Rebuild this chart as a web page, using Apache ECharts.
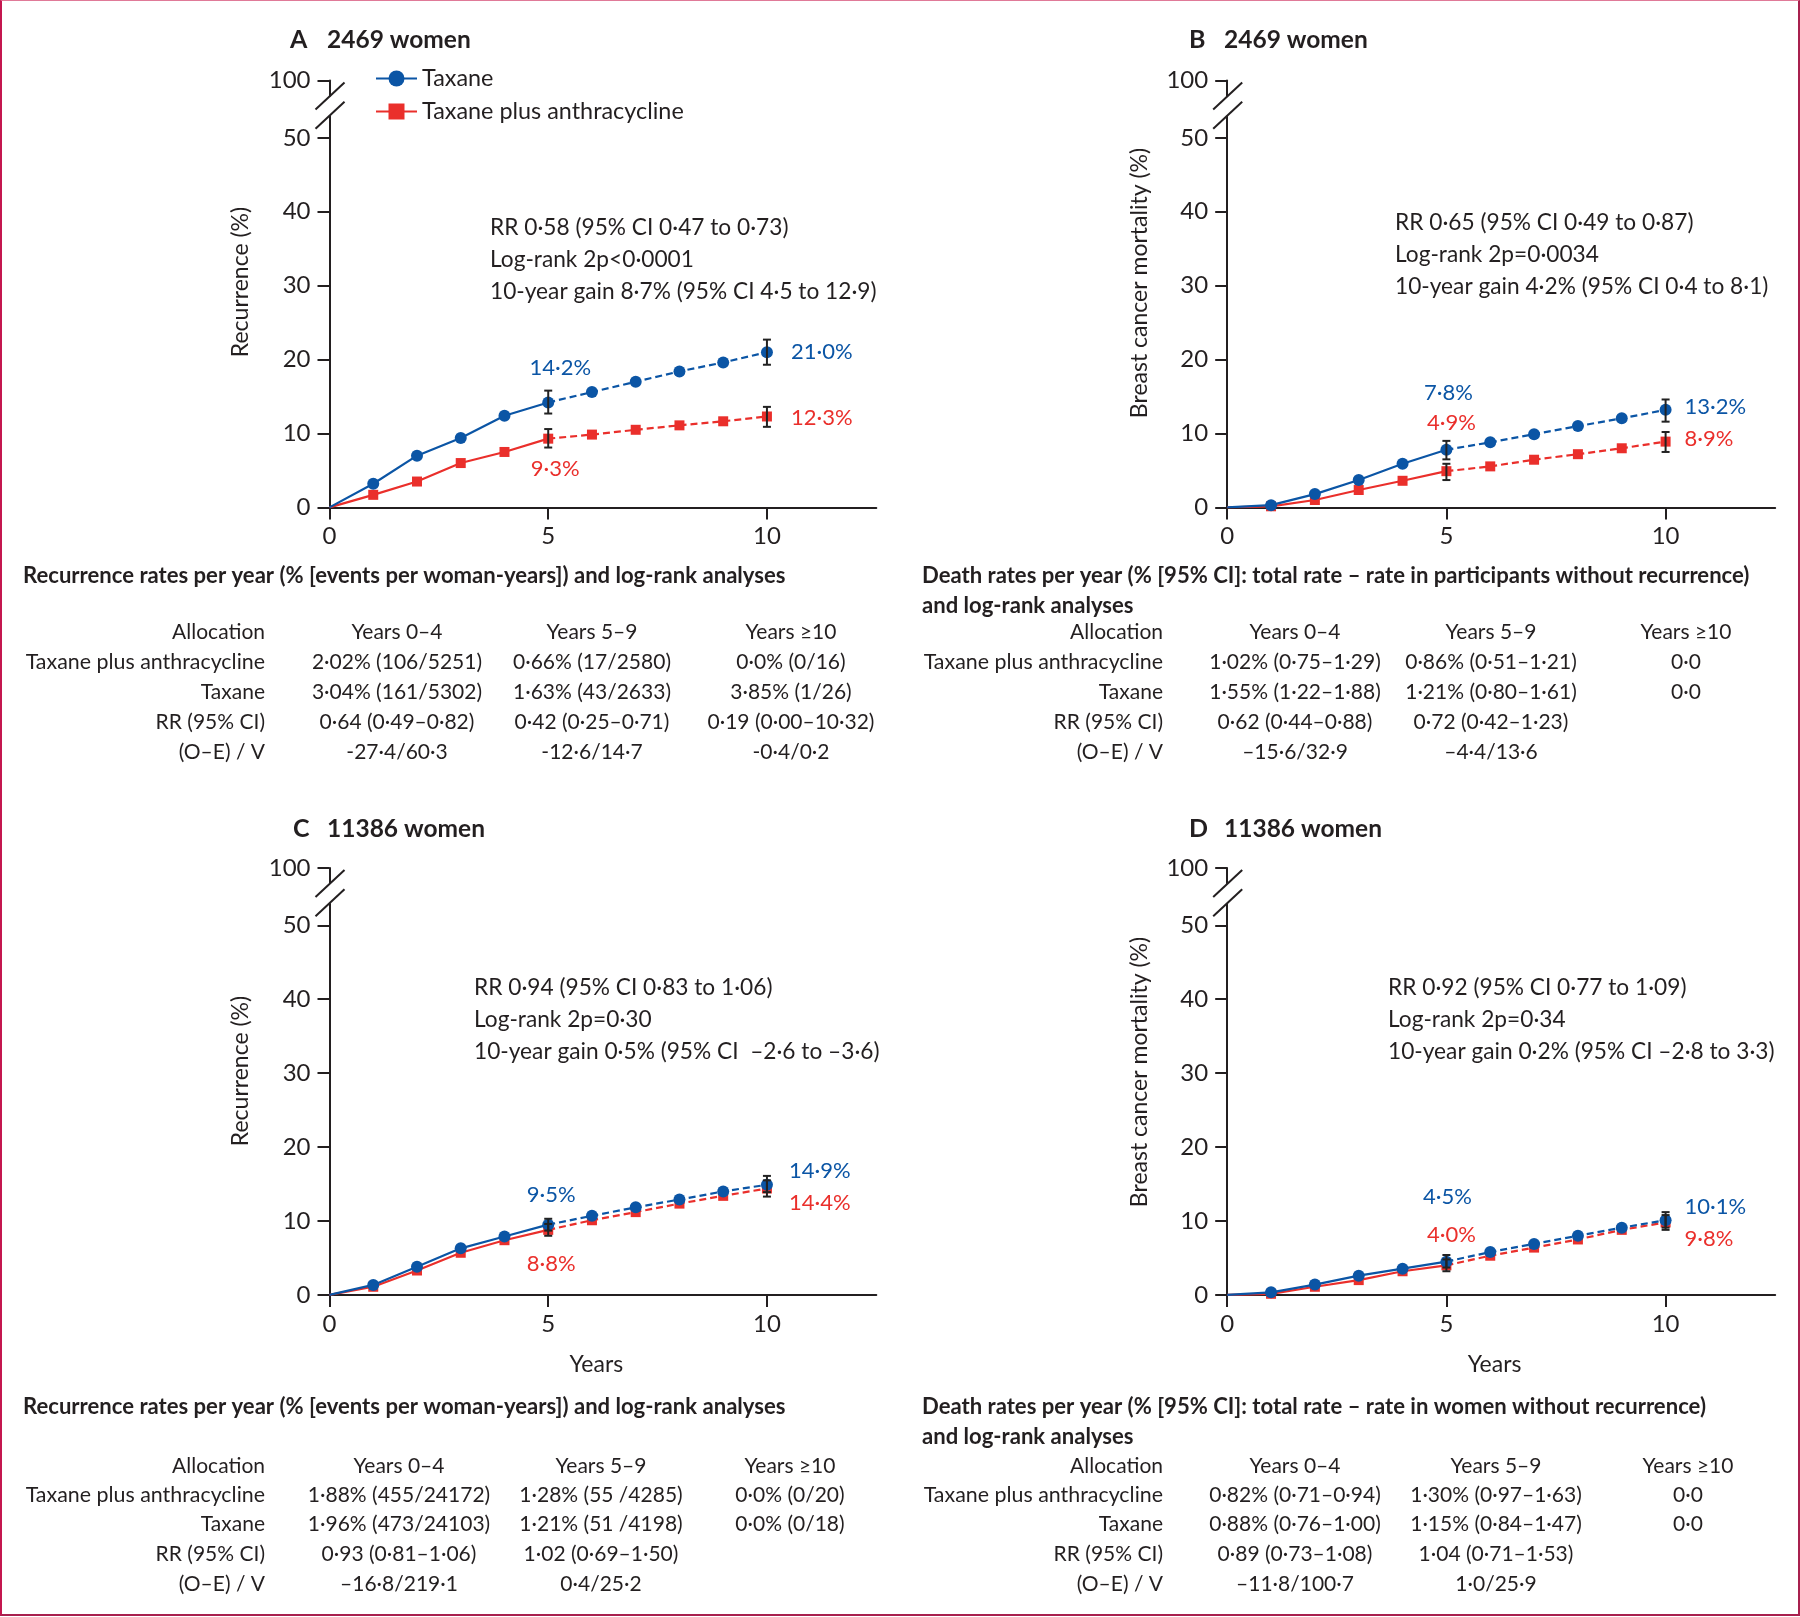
<!DOCTYPE html>
<html><head><meta charset="utf-8">
<script src="https://cdn.jsdelivr.net/npm/echarts@6/dist/echarts.min.js"></script>
<style>
html,body{margin:0;padding:0;background:#fff;}
#wrap{position:relative;width:1800px;height:1617px;overflow:hidden;}
#chart{position:absolute;left:0;top:0;width:1800px;height:1617px;}
#frame{position:absolute;left:0;top:0;width:1796px;height:1613px;border-left:2px solid #c4174f;border-top:1px solid #e07a98;border-right:2px solid #a8204e;border-bottom:2px solid #a8204e;pointer-events:none;}
</style></head>
<body><div id="wrap"><div id="chart"></div><div id="frame"></div></div>
<script>
// ---------------- DATA ----------------
const years = [0,1,2,3,4,5,6,7,8,9,10];
const taxaneA = [0,3.2,7.0,9.4,12.4,14.2,15.6,17.0,18.4,19.6,21.0];
const comboA  = [0,1.7,3.5,6.0,7.5,9.3,9.85,10.5,11.1,11.65,12.3];
const taxaneB = [0,0.3,1.8,3.7,5.9,7.8,8.8,9.9,11.0,12.05,13.2];
const comboB  = [0,0.15,1.0,2.35,3.6,4.9,5.55,6.45,7.2,8.0,8.9];
const taxaneC = [0,1.35,3.8,6.3,7.9,9.5,10.7,11.85,12.9,14.0,14.9];
const comboC  = [0,1.1,3.3,5.7,7.4,8.8,10.1,11.2,12.35,13.4,14.4];
const taxaneD = [0,0.35,1.4,2.6,3.55,4.5,5.8,6.9,8.0,9.1,10.1];
const comboD  = [0,0.15,1.1,2.0,3.2,4.0,5.3,6.4,7.5,8.8,9.8];
// error bars: [year, lower, upper]
const taxaneErrA = [[5,12.7,15.8],[10,19.3,22.7]];
const comboErrA  = [[5,8.1,10.6],[10,10.9,13.6]];
const taxaneErrB = [[5,6.5,9.0],[10,11.6,14.6]];
const comboErrB  = [[5,3.7,5.9],[10,7.5,10.2]];
const taxaneErrC = [[5,8.7,10.3],[10,13.9,16.1]];
const comboErrC  = [[5,8.0,9.6],[10,13.3,15.5]];
const taxaneErrD = [[5,3.7,5.4],[10,9.1,11.2]];
const comboErrD  = [[5,3.2,4.8],[10,8.8,10.8]];

const xTickValues = [0,5,10];
const yTickValues = [0,10,20,30,40,50];
const yTopTickLabel = '100';
const seriesNames = ['Taxane','Taxane plus anthracycline'];
const panelLetters = ['A','B','C','D'];
const panelTitles = ['2469 women','2469 women','11386 women','11386 women'];
const yAxisNames = ['Recurrence (%)','Breast cancer mortality (%)','Recurrence (%)','Breast cancer mortality (%)'];
const xAxisName = 'Years';
const statsA = ['RR 0·58 (95% CI 0·47 to 0·73)','Log-rank 2p<0·0001','10-year gain 8·7% (95% CI 4·5 to 12·9)'];
const statsB = ['RR 0·65 (95% CI 0·49 to 0·87)','Log-rank 2p=0·0034','10-year gain 4·2% (95% CI 0·4 to 8·1)'];
const statsC = ['RR 0·94 (95% CI 0·83 to 1·06)','Log-rank 2p=0·30','10-year gain 0·5% (95% CI  –2·6 to –3·6)'];
const statsD = ['RR 0·92 (95% CI 0·77 to 1·09)','Log-rank 2p=0·34','10-year gain 0·2% (95% CI –2·8 to 3·3)'];

const tableHeader = ['Allocation','Years 0–4','Years 5–9','Years ≥10'];
const tableRowLabels = ['Taxane plus anthracycline','Taxane','RR (95% CI)','(O–E) / V'];
const tableTitleA = ['Recurrence rates per year (% [events per woman-years]) and log-rank analyses'];
const tableTitleB = ['Death rates per year (% [95% CI]: total rate – rate in participants without recurrence)','and log-rank analyses'];
const tableTitleC = ['Recurrence rates per year (% [events per woman-years]) and log-rank analyses'];
const tableTitleD = ['Death rates per year (% [95% CI]: total rate – rate in women without recurrence)','and log-rank analyses'];
const tableA = [
  ['2·02% (106/5251)','0·66% (17/2580)','0·0% (0/16)'],
  ['3·04% (161/5302)','1·63% (43/2633)','3·85% (1/26)'],
  ['0·64 (0·49–0·82)','0·42 (0·25–0·71)','0·19 (0·00–10·32)'],
  ['-27·4/60·3','-12·6/14·7','-0·4/0·2']];
const tableB = [
  ['1·02% (0·75–1·29)','0·86% (0·51–1·21)','0·0'],
  ['1·55% (1·22–1·88)','1·21% (0·80–1·61)','0·0'],
  ['0·62 (0·44–0·88)','0·72 (0·42–1·23)',''],
  ['–15·6/32·9','–4·4/13·6','']];
const tableC = [
  ['1·88% (455/24172)','1·28% (55 /4285)','0·0% (0/20)'],
  ['1·96% (473/24103)','1·21% (51 /4198)','0·0% (0/18)'],
  ['0·93 (0·81–1·06)','1·02 (0·69–1·50)',''],
  ['–16·8/219·1','0·4/25·2','']];
const tableD = [
  ['0·82% (0·71–0·94)','1·30% (0·97–1·63)','0·0'],
  ['0·88% (0·76–1·00)','1·15% (0·84–1·47)','0·0'],
  ['0·89 (0·73–1·08)','1·04 (0·71–1·53)',''],
  ['–11·8/100·7','1·0/25·9','']];

// ---------------- STYLE / LAYOUT ----------------
const BLUE = '#0b55a5', RED = '#ea2f2b', INK = '#231f20';
const FONT = 'Lato';
const Y_TOP = 57.77;          // axis position used for the "100" tick above the break
const BREAK_HI = 55.6, BREAK_LO = 53.0;
const grids = [
  {left:329.5, top:80.4, width:546.8, height:427},
  {left:1227.2, top:80.4, width:548, height:427},
  {left:329.5, top:867.9, width:546.8, height:427},
  {left:1227.2, top:867.9, width:548, height:427}];
const panels = [
  {t:taxaneA, c:comboA, te:taxaneErrA, ce:comboErrA, stats:statsA, title:tableTitleA, table:tableA},
  {t:taxaneB, c:comboB, te:taxaneErrB, ce:comboErrB, stats:statsB, title:tableTitleB, table:tableB},
  {t:taxaneC, c:comboC, te:taxaneErrC, ce:comboErrC, stats:statsC, title:tableTitleC, table:tableC},
  {t:taxaneD, c:comboD, te:taxaneErrD, ce:comboErrD, stats:statsD, title:tableTitleD, table:tableD}];
// placement of end-point labels: [dx, dy, align]
const labelPlace = [
  {t5:[12,-35,'center'], c5:[7,30,'center'], t10:[24,0,'left'], c10:[24,1,'left']},
  {t5:[2,-57,'center'], c5:[5,-48,'center'], t10:[19,-3,'left'], c10:[19,-3,'left']},
  {t5:[3,-30,'center'], c5:[3,34,'center'], t10:[22,-14,'left'], c10:[22,14,'left']},
  {t5:[1,-65,'center'], c5:[5,-30,'center'], t10:[19,-13,'left'], c10:[19,16,'left']}];
const statsPos = [[490,228],[1395,223],[474,988],[1388,988]];
const titlePos = [[290,327,40],[1189,1224,40],[293,327,829],[1189,1224,829]];
const yNamePos = [[241,282],[1140,283],[241,1071],[1140,1072]];
const tableLayout = [
  {titleX:23, titleY:576, rows:[632,662,692,722,752], labelX:265, cols:[397,592,791]},
  {titleX:922, titleY:576, rows:[632,662,692,722,752], labelX:1163, cols:[1295,1491,1686]},
  {titleX:23, titleY:1407, rows:[1466,1495,1524,1554,1584], labelX:265, cols:[399,601,790]},
  {titleX:922, titleY:1407, rows:[1466,1495,1524,1554,1584], labelX:1163, cols:[1295,1496,1688]}];

const chart = echarts.init(document.getElementById('chart'), null, {renderer:'canvas', width:1800, height:1617});

const xAxes = [], yAxes = [], series = [];
grids.forEach((g, i) => {
  xAxes.push({type:'value', gridIndex:i, min:0, max:12.5,
    axisLine:{show:true, lineStyle:{color:INK, width:2}},
    axisTick:{show:true, customValues:xTickValues, length:12, lineStyle:{color:INK, width:2}},
    axisLabel:{show:true, customValues:xTickValues, margin:17, fontSize:24, color:INK, fontFamily:FONT},
    splitLine:{show:false}});
  yAxes.push({type:'value', gridIndex:i, min:0, max:Y_TOP,
    axisLine:{show:true, lineStyle:{color:INK, width:2}},
    axisTick:{show:true, customValues:yTickValues.concat([Y_TOP]), length:12, lineStyle:{color:INK, width:2}},
    axisLabel:{show:true, customValues:yTickValues.concat([Y_TOP]), margin:19, fontSize:24, color:INK, fontFamily:FONT,
      formatter: v => (v > 51 ? yTopTickLabel : String(v))},
    splitLine:{show:false}});
  const p = panels[i];
  const mk = (vals, name, color, symbol, size, dashed, z) => {
    const ys = years.filter(y => dashed ? y >= 5 : y <= 5);
    return {type:'line', name: dashed ? name + ' ' : name, xAxisIndex:i, yAxisIndex:i,
      data: ys.map((y, k) => ({value:[y, vals[years.indexOf(y)]], symbol: k === 0 ? 'none' : symbol})),
      symbol, symbolSize:size, showAllSymbol:true, animation:false, silent:true, z,
      lineStyle:{color, width:2.2, type: dashed ? [7,4] : 'solid'},
      itemStyle:{color}};
  };
  series.push(mk(p.c, seriesNames[1], RED, 'rect', 10, false, 3));
  series.push(mk(p.c, seriesNames[1], RED, 'rect', 10, true, 3));
  series.push(mk(p.t, seriesNames[0], BLUE, 'circle', 12, false, 4));
  series.push(mk(p.t, seriesNames[0], BLUE, 'circle', 12, true, 4));
  [p.te, p.ce].forEach(err => {
    series.push({type:'custom', xAxisIndex:i, yAxisIndex:i, data:err, encode:{x:0, y:[1,2]}, z:10, silent:true, animation:false,
      renderItem:(params, api) => {
        const x = api.value(0);
        const a = api.coord([x, api.value(1)]), b = api.coord([x, api.value(2)]);
        const w = 4, st = {stroke:'#222', lineWidth:2};
        return {type:'group', children:[
          {type:'line', shape:{x1:a[0], y1:a[1], x2:b[0], y2:b[1]}, style:st},
          {type:'line', shape:{x1:a[0]-w, y1:a[1], x2:a[0]+w, y2:a[1]}, style:st},
          {type:'line', shape:{x1:b[0]-w, y1:b[1], x2:b[0]+w, y2:b[1]}, style:st}]};
      }});
  });
});

chart.setOption({
  animation:false,
  grid: grids.map(g => Object.assign({containLabel:false}, g)),
  xAxis: xAxes, yAxis: yAxes, series,
  legend:{data:seriesNames, left:370, top:62, orient:'vertical', itemWidth:41, itemHeight:20, itemGap:10,
    selectedMode:false, textStyle:{fontSize:23.4, color:INK, fontFamily:FONT}}
});

// ---------------- TEXT / DECORATION ----------------
const G = [];
const txt = (x, y, text, size, opts={}) => G.push(Object.assign({type:'text', x, y, z:100, silent:true,
  style:{text, fill: opts.fill || INK, font: (opts.bold ? 'bold ' : '') + size + 'px ' + FONT,
    textAlign: opts.align || 'left', textVerticalAlign:'middle'}}, opts.rotation ? {rotation: opts.rotation} : {}));
const fmt = v => v.toFixed(1).replace('.', '·') + '%';

grids.forEach((g, i) => {
  const p = panels[i];
  // axis break
  const hi = chart.convertToPixel({gridIndex:i}, [0, BREAK_HI]);
  const lo = chart.convertToPixel({gridIndex:i}, [0, BREAK_LO]);
  const X = hi[0];
  G.push({type:'rect', z:99, silent:true, shape:{x:X-4, y:hi[1], width:8, height:lo[1]-hi[1]}, style:{fill:'#fff'}});
  [hi, lo].forEach(pt => G.push({type:'line', z:100, silent:true,
    shape:{x1:X-14, y1:pt[1]+13, x2:X+15, y2:pt[1]-14}, style:{stroke:INK, lineWidth:2}}));
  // titles
  const tp = titlePos[i];
  txt(tp[0], tp[2], panelLetters[i], 25, {bold:true});
  txt(tp[1], tp[2], panelTitles[i], 24.5, {bold:true});
  // y axis name
  txt(yNamePos[i][0], yNamePos[i][1], yAxisNames[i], 23, {align:'center', rotation:Math.PI/2});
  if (i >= 2) {
    const c = chart.convertToPixel({gridIndex:i}, [6.1, 0]);
    txt(c[0], 1365, xAxisName, 23, {align:'center'});
  }
  // stats
  p.stats.forEach((s, k) => txt(statsPos[i][0], statsPos[i][1] + k*32, s, 22.7));
  // end labels
  const lp = labelPlace[i];
  [['t', p.t, BLUE], ['c', p.c, RED]].forEach(([key, vals, color]) => {
    [5, 10].forEach(yr => {
      const v = vals[years.indexOf(yr)];
      const pt = chart.convertToPixel({gridIndex:i}, [yr, v]);
      const pl = lp[key + yr];
      txt(pt[0] + pl[0], pt[1] + pl[1], fmt(v), 22, {fill:color, align:pl[2]});
    });
  });
  // table
  const L = tableLayout[i];
  p.title.forEach((s, k) => txt(L.titleX, L.titleY + k*30, s, 22.1, {bold:true}));
  txt(L.labelX, L.rows[0], tableHeader[0], 21, {align:'right'});
  tableHeader.slice(1).forEach((h, k) => txt(L.cols[k], L.rows[0], h, 21, {align:'center'}));
  tableRowLabels.forEach((r, k) => {
    txt(L.labelX, L.rows[k+1], r, k === 0 ? 21.4 : 21, {align:'right'});
    p.table[k].forEach((cell, j) => { if (cell) txt(L.cols[j], L.rows[k+1], cell, 21, {align:'center'}); });
  });
});

chart.setOption({graphic:{elements:G}});
</script>
</body></html>
